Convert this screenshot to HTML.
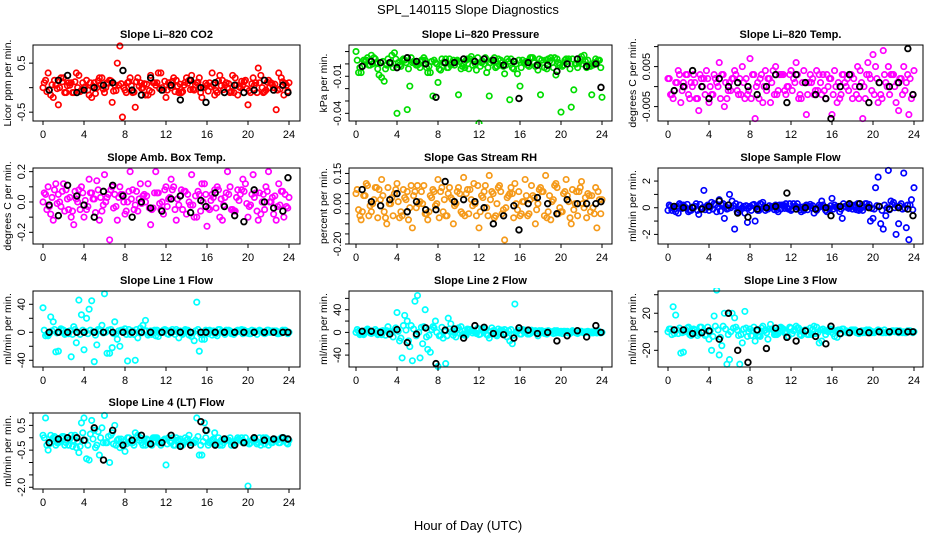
<!DOCTYPE html>
<html><head><meta charset="utf-8"><style>
html,body{margin:0;padding:0;background:#fff;}
svg{display:block;font-family:"Liberation Sans",Arial,sans-serif;}
</style></head><body>
<svg id="chart" width="936" height="540" viewBox="0 0 936 540" xmlns="http://www.w3.org/2000/svg">
<rect x="0" y="0" width="936" height="540" fill="#fff"/>
<text x="468" y="14" font-size="13" text-anchor="middle">SPL_140115  Slope Diagnostics</text>
<text x="468" y="530" font-size="13" text-anchor="middle">Hour of Day (UTC)</text>
</svg>
<script>
const hA=[0,0.5,1,1.5,2,2.5,3,3.5,4,4.5,5,5.5,6,6.5,7,7.5,8,8.5,9,9.5,10,10.5,11,11.5,12,12.5,13,13.5,14,14.5,15,15.5,16,16.5,17,17.5,18,18.5,19,19.5,20,20.5,21,21.5,22,22.5,23,23.5,24];
const hB=[0.25,0.75,1.25,1.75,2.25,2.75,3.25,3.75,4.25,4.75,5.25,5.75,6.25,6.75,7.25,7.75,8.25,8.75,9.25,9.75,10.25,10.75,11.25,11.75,12.25,12.75,13.25,13.75,14.25,14.75,15.25,15.75,16.25,16.75,17.25,17.75,18.25,18.75,19.25,19.75,20.25,20.75,21.25,21.75,22.25,22.75,23.25,23.75];
const hC=[0.12,0.62,1.12,1.62,2.12,2.62,3.12,3.62,4.12,4.62,5.12,5.62,6.12,6.62,7.12,7.62,8.12,8.62,9.12,9.62,10.12,10.62,11.12,11.62,12.12,12.62,13.12,13.62,14.12,14.62,15.12,15.62,16.12,16.62,17.12,17.62,18.12,18.62,19.12,19.62,20.12,20.62,21.12,21.62,22.12,22.62,23.12,23.62];
const hD=[0.38,0.88,1.38,1.88,2.38,2.88,3.38,3.88,4.38,4.88,5.38,5.88,6.38,6.88,7.38,7.88,8.38,8.88,9.38,9.88,10.38,10.88,11.38,11.88,12.38,12.88,13.38,13.88,14.38,14.88,15.38,15.88,16.38,16.88,17.38,17.88,18.38,18.88,19.38,19.88,20.38,20.88,21.38,21.88,22.38,22.88,23.38,23.88];
const hK=[0.6,1.5,2.4,3.3,4.0,5.0,5.9,6.8,7.8,8.7,9.6,10.5,11.6,12.5,13.4,14.4,15.4,15.9,16.8,17.7,18.7,19.6,20.6,21.6,22.5,23.4,23.9];
const xTicks=[0,4,8,12,16,20,24];

const co2A=[0.0,0.3,-0.2,-0.35,0.2,0.1,-0.1,0.25,0.0,-0.15,0.1,0.2,-0.1,0.15,0.05,0.85,-0.05,0.2,-0.4,0.1,-0.15,0.25,0.05,0.3,-0.2,0.0,0.15,-0.1,0.2,0.25,0.1,-0.2,0.05,0.3,-0.1,0.15,0.0,0.25,-0.15,0.05,-0.35,0.2,0.4,-0.1,0.15,0.0,0.3,-0.15,0.1];
const co2B=[0.15,-0.15,0.05,0.2,-0.1,0.1,0.3,-0.05,0.15,-0.2,0.0,0.2,0.1,-0.3,0.5,-0.6,0.1,-0.1,0.2,0.0,-0.15,0.1,0.3,-0.05,0.1,0.2,-0.1,0.05,0.15,-0.05,0.2,0.0,0.1,-0.15,0.25,0.05,-0.1,0.2,0.0,0.15,-0.1,0.1,0.25,-0.05,0.1,-0.45,0.2,0.05];
const co2C=[0.1,-0.05,0.15,0.0,-0.1,0.05,0.12,-0.08,0.02,0.1,-0.12,0.06,0.0,0.14,-0.06,0.08,-0.1,0.04,0.12,-0.02,0.07,-0.09,0.1,0.0,-0.05,0.13,0.03,-0.08,0.09,-0.03,0.11,0.0,-0.07,0.06,0.14,-0.04,0.08,-0.1,0.02,0.12,-0.06,0.05,0.1,-0.08,0.0,0.07,-0.03,0.09];
const co2D=[-0.08,0.06,-0.02,0.12,0.04,-0.1,0.0,0.1,-0.05,0.03,0.14,-0.03,0.09,-0.07,0.05,0.0,0.12,-0.09,0.03,0.08,-0.06,0.1,-0.02,0.13,0.05,-0.08,0.07,0.11,-0.04,0.06,-0.1,0.09,0.02,-0.06,0.04,0.1,-0.08,0.05,0.13,-0.02,0.08,-0.1,0.0,0.11,0.06,-0.05,0.12,-0.07];
const co2K=[-0.05,0.15,0.25,-0.1,-0.05,0.0,0.05,0.1,0.35,-0.05,-0.15,0.2,-0.05,0.05,-0.25,0.15,0.0,-0.3,0.1,-0.1,0.05,-0.1,-0.05,0.15,-0.05,0.05,-0.1];

const presA=[0.01,-0.007,0.003,0.007,0.001,-0.011,-0.001,0.007,-0.040,0.003,-0.037,0.001,-0.001,0.003,-0.007,-0.026,-0.015,0.001,-0.003,0.003,-0.025,0.0,-0.004,0.003,-0.048,0.0,-0.026,0.005,-0.001,-0.008,-0.029,0.002,-0.018,0.001,0.005,-0.002,-0.025,0.003,0.005,-0.009,-0.039,0.004,-0.035,0.0,0.006,-0.003,-0.025,0.001,-0.027];
const presB=[-0.007,0.003,-0.001,0.005,-0.009,-0.014,0.001,0.009,-0.001,0.003,-0.018,0.001,-0.003,0.003,-0.007,0.001,-0.005,0.004,-0.001,0.002,-0.004,0.003,0.006,-0.005,0.001,-0.007,0.003,-0.002,0.001,0.004,-0.003,-0.008,0.003,-0.001,0.005,-0.005,0.001,0.004,-0.003,0.001,-0.001,0.004,-0.021,0.001,0.007,-0.002,0.001,0.003];
const presC=[0.003,-0.002,0.005,0.0,-0.004,0.002,0.004,-0.003,0.001,0.004,-0.004,0.002,0.0,0.005,-0.002,0.003,-0.004,0.001,0.004,-0.001,0.002,-0.003,0.004,0.0,-0.002,0.005,0.001,-0.003,0.003,-0.001,0.004,0.0,-0.003,0.002,0.005,-0.001,0.003,-0.004,0.001,0.004,-0.002,0.002,0.004,-0.003,0.0,0.003,-0.001,0.003];
const presD=[-0.003,0.002,-0.001,0.004,0.001,-0.004,0.0,0.004,-0.002,0.001,0.005,-0.001,0.003,-0.003,0.002,0.0,0.004,-0.003,0.001,0.003,-0.002,0.004,-0.001,0.005,0.002,-0.003,0.002,0.004,-0.002,0.002,-0.004,0.003,0.001,-0.002,0.001,0.004,-0.003,0.002,0.005,-0.001,0.003,-0.004,0.0,0.004,0.002,-0.002,0.004,-0.003];
const presK=[-0.002,0.002,0.001,0.001,-0.003,0.005,0.002,0.0,-0.027,0.001,0.001,0.004,0.002,0.004,0.003,-0.001,0.002,-0.028,0.001,-0.001,-0.001,-0.006,0.0,0.004,-0.002,0.0,-0.019];

const tempA=[0.002,-0.003,0.004,0.001,-0.002,0.003,-0.006,0.002,-0.004,0.003,0.006,-0.005,0.001,0.004,0.002,-0.003,0.007,-0.008,0.002,0.004,-0.004,0.005,0.003,-0.002,0.004,0.006,-0.003,-0.007,0.001,0.004,-0.002,0.003,-0.007,-0.004,0.003,0.002,-0.003,0.005,-0.008,0.006,0.008,-0.004,0.009,0.005,0.003,-0.006,0.005,-0.007,0.004];
const tempB=[-0.002,0.001,-0.004,0.003,0.001,-0.003,0.002,0.004,-0.002,0.001,0.003,-0.003,0.002,-0.001,0.005,-0.002,0.003,0.001,-0.004,0.002,0.004,-0.001,0.003,0.0,0.002,-0.003,0.004,0.001,-0.002,0.003,-0.001,0.002,0.004,-0.003,0.001,0.003,0.0,0.004,-0.003,0.002,0.005,-0.002,0.001,0.003,-0.004,0.002,0.001,-0.003];
const tempC=[0.002,-0.001,0.003,0.0,-0.003,0.001,0.003,-0.002,0.0,0.002,-0.003,0.001,-0.001,0.003,-0.002,0.002,-0.003,0.0,0.003,-0.001,0.001,-0.002,0.003,0.0,-0.001,0.003,0.001,-0.002,0.002,-0.001,0.003,0.0,-0.002,0.001,0.003,-0.001,0.002,-0.003,0.0,0.003,-0.002,0.001,0.003,-0.002,0.0,0.002,-0.001,0.002];
const tempD=[-0.002,0.001,-0.001,0.003,0.0,-0.003,0.0,0.002,-0.002,0.0,0.003,-0.001,0.002,-0.002,0.001,-0.001,0.003,-0.003,0.0,0.002,-0.002,0.003,-0.001,0.003,0.001,-0.002,0.001,0.003,-0.001,0.001,-0.003,0.002,0.0,-0.002,0.0,0.003,-0.002,0.001,0.003,-0.001,0.002,-0.003,0.0,0.003,0.001,-0.002,0.003,-0.002];
const tempK=[-0.001,0.0,0.004,0.0,-0.003,0.002,0.0,0.001,0.0,-0.002,0.0,0.003,-0.004,0.003,0.001,-0.002,-0.003,-0.008,0.0,0.003,0.0,-0.004,0.001,0.0,0.001,0.0095,-0.002];

const ambA=[0.0,0.1,-0.12,0.05,0.12,-0.05,-0.15,0.08,-0.1,0.15,0.02,-0.12,0.18,-0.25,0.05,0.1,-0.08,0.2,-0.02,0.12,0.0,-0.15,0.2,-0.05,0.1,0.15,-0.12,0.08,-0.08,0.18,-0.1,0.12,-0.16,0.05,0.1,-0.12,0.2,-0.05,0.08,0.15,-0.1,0.18,-0.12,0.05,0.2,-0.08,0.12,-0.1,0.03];
const ambB=[0.05,-0.08,0.12,-0.03,0.08,-0.1,0.02,0.1,-0.05,0.06,0.14,-0.06,0.03,0.1,-0.12,0.05,0.0,0.08,-0.06,0.04,0.12,-0.04,0.06,-0.08,0.02,0.1,-0.02,0.07,0.0,-0.1,0.05,0.12,-0.05,0.08,-0.1,0.03,0.1,-0.06,0.05,0.12,-0.02,0.06,-0.08,0.1,0.0,-0.12,0.07,-0.03];
const ambC=[0.06,-0.03,0.08,0.0,-0.06,0.03,0.07,-0.05,0.01,0.06,-0.07,0.03,0.0,0.08,-0.03,0.05,-0.06,0.02,0.07,-0.01,0.04,-0.05,0.06,0.0,-0.03,0.08,0.02,-0.05,0.05,-0.02,0.07,0.0,-0.04,0.03,0.08,-0.02,0.05,-0.06,0.01,0.07,-0.03,0.03,0.06,-0.05,0.0,0.04,-0.02,0.05];
const ambD=[-0.05,0.03,-0.01,0.07,0.02,-0.06,0.0,0.06,-0.03,0.02,0.08,-0.02,0.05,-0.04,0.03,0.0,0.07,-0.05,0.02,0.05,-0.04,0.06,-0.01,0.08,0.03,-0.05,0.04,0.07,-0.02,0.04,-0.06,0.05,0.01,-0.04,0.02,0.06,-0.05,0.03,0.08,-0.01,0.05,-0.06,0.0,0.07,0.03,-0.03,0.07,-0.04];
const ambK=[-0.02,-0.09,0.11,0.04,-0.02,-0.1,0.07,0.11,0.04,-0.1,0.0,-0.04,-0.06,0.02,0.04,-0.07,0.01,-0.03,0.06,-0.03,-0.09,-0.13,0.08,0.0,-0.04,-0.06,0.16];

const rhA=[0.05,-0.08,0.1,-0.04,0.08,0.12,-0.1,0.03,0.1,-0.06,0.06,-0.12,0.09,0.0,-0.08,0.07,0.12,-0.04,0.05,-0.1,0.08,0.13,-0.05,0.1,-0.12,0.06,0.14,-0.07,0.09,-0.18,0.05,0.1,-0.06,0.12,0.02,-0.1,0.08,0.14,-0.08,0.1,-0.04,0.12,-0.1,0.06,0.11,-0.07,0.04,-0.12,0.02];
const rhB=[-0.03,0.04,-0.06,0.02,0.07,-0.04,0.0,0.05,-0.07,0.03,-0.02,0.06,0.01,-0.05,0.04,-0.01,0.06,-0.06,0.03,0.0,-0.04,0.05,0.02,-0.06,0.04,-0.02,0.06,0.0,-0.05,0.03,0.05,-0.03,0.01,-0.06,0.04,0.0,0.06,-0.04,0.02,-0.05,0.05,0.01,-0.03,0.06,-0.02,0.04,-0.05,0.02];
const rhC=[0.07,-0.04,0.09,0.0,-0.07,0.04,0.08,-0.06,0.01,0.07,-0.08,0.04,0.0,0.09,-0.04,0.06,-0.07,0.02,0.08,-0.01,0.05,-0.06,0.07,0.0,-0.04,0.09,0.02,-0.06,0.06,-0.02,0.08,0.0,-0.05,0.04,0.09,-0.03,0.06,-0.07,0.01,0.08,-0.04,0.04,0.07,-0.06,0.0,0.05,-0.02,0.06];
const rhD=[-0.06,0.04,-0.01,0.08,0.02,-0.07,0.0,0.07,-0.04,0.02,0.09,-0.02,0.06,-0.05,0.03,0.0,0.08,-0.06,0.02,0.06,-0.05,0.07,-0.01,0.09,0.03,-0.06,0.05,0.08,-0.03,0.04,-0.07,0.06,0.01,-0.05,0.03,0.07,-0.06,0.04,0.09,-0.02,0.06,-0.07,0.0,0.08,0.03,-0.04,0.08,-0.05];
const rhK=[0.07,0.01,-0.01,0.02,0.05,-0.04,0.01,-0.03,-0.03,0.11,0.01,0.02,0.01,-0.02,-0.1,-0.06,-0.01,-0.13,0.0,0.03,0.0,-0.05,0.02,0.0,0.0,0.0,0.01];

const sfA=[-0.2,0.1,-0.4,0.2,-0.3,0.0,-0.5,1.3,-0.2,0.3,0.6,-0.8,1.0,-1.6,0.2,-0.4,0.1,-1.0,0.3,-0.2,0.0,0.2,-0.1,0.3,-0.2,0.1,-0.3,0.2,0.0,-0.2,0.5,-0.3,0.7,0.0,-0.8,0.2,-0.1,0.3,-0.2,0.1,-0.8,2.3,-1.6,2.8,0.4,-1.2,2.6,-2.4,1.5];
const sfB=[0.1,-0.3,0.2,0.0,-0.2,0.3,-0.1,0.1,0.4,-0.3,0.2,-0.1,0.5,-0.3,0.0,-1.1,0.2,-0.2,0.4,-0.1,0.1,-0.3,0.2,-0.1,0.3,0.0,-0.2,0.1,-0.4,0.2,0.0,-0.1,0.2,-0.3,0.1,0.0,0.2,-0.1,0.3,-1.0,1.5,-1.2,-0.6,0.5,-2.0,0.3,-1.5,0.6];
const sfC=[0.2,-0.1,0.3,0.0,-0.2,0.1,0.25,-0.15,0.05,0.2,-0.25,0.1,0.0,0.3,-0.1,0.15,-0.2,0.05,0.25,-0.05,0.1,-0.15,0.2,0.0,-0.1,0.3,0.05,-0.15,0.15,-0.05,0.2,0.0,-0.1,0.1,0.3,-0.05,0.15,-0.2,0.05,0.25,-0.1,0.1,0.2,-0.15,0.0,0.15,-0.05,0.2];
const sfD=[-0.2,0.1,-0.05,0.25,0.05,-0.2,0.0,0.2,-0.1,0.05,0.3,-0.05,0.15,-0.15,0.1,0.0,0.25,-0.2,0.05,0.15,-0.15,0.2,-0.05,0.3,0.1,-0.15,0.1,0.25,-0.1,0.1,-0.2,0.15,0.05,-0.1,0.05,0.2,-0.15,0.1,0.3,-0.05,0.15,-0.2,0.0,0.25,0.1,-0.1,0.2,-0.15];
const sfK=[0.1,0.0,0.0,-0.1,0.1,0.5,0.2,-0.4,-0.7,-0.1,0.0,0.1,1.1,-0.1,0.0,-0.1,0.0,-0.6,0.1,0.3,0.3,0.0,0.1,-0.1,0.0,-0.1,-0.6];

const l1A=[35,-5,15,-27,3,-2,8,46,-25,33,-42,4,55,-30,15,-20,5,-3,-40,6,17,2,-5,1,3,-1,4,-2,2,-6,43,-10,2,-4,-5,1,2,-1,3,-2,1,0,2,-1,3,0,-2,1,0];
const l1B=[-5,22,-28,5,-2,-35,-15,25,20,45,-18,10,-30,-22,-10,3,-41,2,-8,10,-4,2,-6,3,-3,1,-8,2,-4,-12,-27,-10,3,-2,4,-3,2,-1,3,0,-2,1,2,-1,0,2,-1,1];
const l1C=[3,-2,4,0,-3,2,4,-3,1,3,-4,2,0,4,-2,3,-3,1,4,-1,2,-3,3,0,-2,4,1,-3,3,-1,4,0,-2,2,4,-1,3,-3,1,3,-2,2,3,-2,0,2,-1,3];
const l1D=[-3,2,-1,4,1,-3,0,3,-2,1,4,-1,3,-2,2,0,4,-3,1,3,-2,3,-1,4,2,-3,2,4,-1,2,-3,3,1,-2,1,3,-2,2,4,-1,3,-3,0,3,2,-2,3,-2];
const l1K=[0,0,0,0,0,0,0,0,0,0,0,0,0,0,0,0,0,0,0,0,0,0,0,0,0,0,0];

const l2A=[0,-3,4,-2,2,-4,3,1,35,-45,20,-50,65,-20,-30,10,-60,-10,25,-5,8,-3,5,2,-4,6,-10,3,-2,5,-15,50,-3,4,-2,3,-1,2,0,-1,2,0,1,-1,2,0,1,-1,0];
const l2B=[2,-4,3,0,-3,2,-2,4,-15,30,-25,55,-45,40,-35,20,-5,-55,15,-8,10,-5,3,-2,6,-4,8,-6,4,-8,-20,2,5,-3,2,-6,1,3,-2,0,2,-1,1,0,-1,1,0,0];
const l2C=[5,-3,6,0,-4,3,10,-8,2,12,-15,6,0,10,-5,8,-6,2,6,-1,4,-5,5,0,-3,6,1,-4,4,-2,5,0,-3,2,4,-1,3,-3,1,3,-2,2,3,-2,0,2,-1,3];
const l2D=[-4,3,-1,5,2,-5,0,8,-10,4,12,-6,9,-8,5,0,9,-6,2,5,-4,6,-1,7,3,-5,3,6,-2,3,-5,4,1,-3,1,3,-2,2,3,-1,2,-2,0,2,1,-1,2,-1];
const l2K=[2,2,0,-3,5,-18,-3,8,-55,4,6,-10,12,9,-2,-4,-10,8,4,-2,0,-15,-6,3,-8,12,0];

const l3A=[0,27,-2,-22,5,3,-2,1,-8,17,-25,20,-30,15,-35,22,3,-10,-5,2,8,-3,5,-1,4,6,-4,2,-3,5,-10,1,2,-6,3,-1,2,0,-1,1,0,2,-1,0,1,-1,0,1,0];
const l3B=[3,18,-23,2,-4,-1,5,-3,-20,45,-15,-35,20,2,-12,-5,1,-4,6,-8,2,-2,3,-5,1,4,-2,-3,6,-12,1,3,-5,2,0,-1,2,0,-1,1,0,1,-1,0,1,0,-1,0];
const l3C=[3,-2,4,0,-3,2,5,-4,1,6,-6,3,0,5,-3,4,-4,1,4,-1,3,-3,4,0,-2,4,1,-3,3,-1,3,0,-2,2,3,-1,2,-2,1,2,-1,1,2,-1,0,1,-1,1];
const l3D=[-3,2,-1,4,1,-4,0,5,-5,2,6,-3,4,-4,3,0,5,-4,1,3,-3,4,-1,5,2,-3,2,4,-2,2,-3,3,1,-2,1,2,-1,1,2,-1,1,-1,0,1,1,-1,1,-1];
const l3K=[2,2,-2,-1,1,-8,20,-20,-33,2,-18,4,-6,-10,1,-5,-13,6,-2,-1,0,-1,0,0,0,0,0];

const l4A=[0.1,-0.5,0.0,-0.2,0.05,-0.3,-0.1,-0.6,0.8,-0.9,0.3,-0.7,0.9,-1.0,0.5,-0.4,-0.55,-0.2,0.2,0.0,-0.3,-0.2,0.0,-0.3,-1.1,-0.2,0.0,-0.3,-0.1,-0.2,0.8,-0.7,0.3,-0.1,-0.2,-0.3,-0.1,-0.2,0.0,-0.2,-1.95,-0.1,-0.2,0.0,-0.3,-0.1,-0.2,0.0,-0.1];
const l4B=[0.8,0.1,-0.3,0.0,-0.2,0.1,-0.4,0.6,-0.85,0.7,-0.3,0.4,-0.2,0.2,-0.1,-0.3,0.0,-0.2,0.1,-0.3,-0.1,0.0,-0.2,-0.1,0.0,-0.3,-0.1,-0.2,0.1,-0.2,-0.7,0.6,-0.2,0.2,-0.3,-0.1,0.0,-0.2,-0.1,0.0,-0.2,-0.1,-0.3,0.0,-0.2,-0.1,0.0,-0.2];
const l4C=[0.0,-0.25,0.05,-0.15,-0.3,-0.05,0.1,-0.35,-0.1,0.15,-0.4,0.0,-0.2,0.1,-0.3,-0.05,-0.25,-0.1,0.0,-0.2,-0.05,-0.3,0.0,-0.15,-0.25,0.0,-0.1,-0.3,-0.05,-0.2,0.05,-0.15,-0.3,-0.05,0.0,-0.2,-0.1,-0.3,-0.05,-0.15,-0.25,-0.05,0.0,-0.25,-0.1,-0.05,-0.2,-0.1];
const l4D=[-0.3,-0.05,-0.2,0.05,-0.1,-0.35,-0.15,0.2,-0.3,-0.05,0.25,-0.2,0.05,-0.25,-0.05,-0.15,0.0,-0.3,-0.1,-0.05,-0.25,0.0,-0.2,-0.05,-0.15,-0.3,-0.05,0.0,-0.2,-0.1,-0.3,0.0,-0.15,-0.25,-0.1,-0.05,-0.3,-0.1,0.0,-0.2,-0.1,-0.25,-0.15,-0.05,-0.2,-0.1,-0.05,-0.25];
const l4K=[-0.2,-0.05,0.0,0.0,-0.1,0.4,-0.9,0.3,-0.3,-0.1,0.1,-0.25,-0.2,0.1,-0.35,-0.3,0.65,0.3,-0.3,-0.05,-0.3,-0.2,0.0,-0.1,-0.05,0.0,-0.05];

const co2Ticks=[-0.5,0,0.5], co2Labels=["-0.5","","0.5"];
const presTicks=[-0.04,-0.03,-0.02,-0.01,0,0.01], presLabels=["-0.04","","","-0.01","",""];
const tempTicks=[-0.005,0,0.005,0.01], tempLabels=["-0.005","","0.005",""];
const ambTicks=[-0.2,-0.1,0,0.1,0.2], ambLabels=["-0.2","","0.0","","0.2"];
const rhTicks=[-0.2,-0.15,-0.1,-0.05,0,0.05,0.1,0.15], rhLabels=["-0.20","","","","0.00","","","0.15"];
const sfTicks=[-2,-1,0,1,2], sfLabels=["-2","","0","","2"];
const l1Ticks=[-40,-20,0,20,40], l1Labels=["-40","","0","","40"];
const l2Ticks=[-40,-20,0,20,40,60], l2Labels=["-40","","0","","40",""];
const l3Ticks=[-20,0,20,40], l3Labels=["-20","","20",""];
const l4Ticks=[-2,-1.5,-1,-0.5,0,0.5,1], l4Labels=["-2.0","","","-0.5","","0.5",""];

const cols=[{l:33,r:300,x0:43,x24:289},{l:349,r:612,x0:356,x24:602},{l:658,r:923,x0:668,x24:914}];
const rows=[{t:45,b:121},{t:168,b:244},{t:291,b:367},{t:413,b:489}];

const panels=[
 {name:'co2',title:'Slope Li\u2013820 CO2',ylab:'Licor ppm per min.',c:0,r:0,ymin:-0.68,ymax:0.87,color:'#ff0000',S:[co2A,co2B,co2C,co2D],K:co2K,ticks:co2Ticks,labels:co2Labels},
 {name:'pressure',title:'Slope Li\u2013820 Pressure',ylab:'kPa per min.',c:1,r:0,ymin:-0.0462,ymax:0.0153,color:'#00dd00',S:[presA,presB,presC,presD],K:presK,ticks:presTicks,labels:presLabels},
 {name:'li820-temp',title:'Slope Li\u2013820 Temp.',ylab:'degrees C per min.',c:2,r:0,ymin:-0.0086,ymax:0.0104,color:'#ff00ff',S:[tempA,tempB,tempC,tempD],K:tempK,ticks:tempTicks,labels:tempLabels},
 {name:'amb-box-temp',title:'Slope Amb. Box Temp.',ylab:'degrees C per min.',c:0,r:1,ymin:-0.277,ymax:0.224,color:'#ff00ff',S:[ambA,ambB,ambC,ambD],K:ambK,ticks:ambTicks,labels:ambLabels},
 {name:'gas-stream-rh',title:'Slope Gas Stream RH',ylab:'percent per min.',c:1,r:1,ymin:-0.2,ymax:0.177,color:'#f59a1a',S:[rhA,rhB,rhC,rhD],K:rhK,ticks:rhTicks,labels:rhLabels},
 {name:'sample-flow',title:'Slope Sample Flow',ylab:'ml/min per min.',c:2,r:1,ymin:-2.72,ymax:2.98,color:'#0000ff',S:[sfA,sfB,sfC,sfD],K:sfK,ticks:sfTicks,labels:sfLabels},
 {name:'line1-flow',title:'Slope Line 1 Flow',ylab:'ml/min per min.',c:0,r:2,ymin:-49.6,ymax:59,color:'#00ffff',S:[l1A,l1B,l1C,l1D],K:l1K,ticks:l1Ticks,labels:l1Labels},
 {name:'line2-flow',title:'Slope Line 2 Flow',ylab:'ml/min per min.',c:1,r:2,ymin:-61,ymax:73,color:'#00ffff',S:[l2A,l2B,l2C,l2D],K:l2K,ticks:l2Ticks,labels:l2Labels},
 {name:'line3-flow',title:'Slope Line 3 Flow',ylab:'ml/min per min.',c:2,r:2,ymin:-38,ymax:44,color:'#00ffff',S:[l3A,l3B,l3C,l3D],K:l3K,ticks:l3Ticks,labels:l3Labels},
 {name:'line4-flow',title:'Slope Line 4 (LT) Flow',ylab:'ml/min per min.',c:0,r:3,ymin:-2.07,ymax:1.0,color:'#00ffff',S:[l4A,l4B,l4C,l4D],K:l4K,ticks:l4Ticks,labels:l4Labels}
];
const hourSets=[hA,hB,hC,hD];

const NS='http://www.w3.org/2000/svg';
const svg=document.getElementById('chart');
function mk(tag,attrs,parent){const e=document.createElementNS(NS,tag);for(const k in attrs)e.setAttribute(k,attrs[k]);(parent||svg).appendChild(e);return e;}

panels.forEach(p=>{
  const col=cols[p.c], row=rows[p.r];
  const g=mk('g',{});
  
  
  const xs=h=>col.x0+(col.x24-col.x0)*h/24;
  const ys=v=>row.b-(v-p.ymin)/(p.ymax-p.ymin)*(row.b-row.t);
  const clip='clip-'+p.name;
  const cp=mk('clipPath',{id:clip},g);
  mk('rect',{x:col.l,y:row.t-3,width:col.r-col.l,height:row.b-row.t+6},cp);
  const pts=mk('g',{'clip-path':'url(#'+clip+')'},g);
  
  
  p.S.forEach((vals,si)=>{
    const hrs=hourSets[si];
    vals.forEach((v,i)=>{ if(i>=hrs.length) return;
      const c=mk('circle',{cx:xs(hrs[i]),cy:ys(v),r:2.7,fill:'none',stroke:p.color,'stroke-width':1.7},pts);
      
      
    });
  });
  p.K.forEach((v,i)=>{ if(i>=hK.length) return;
    const c=mk('circle',{cx:xs(hK[i]),cy:ys(v),r:2.8,fill:'none',stroke:'#000','stroke-width':1.8},pts);
    
    
  });
  const box=mk('rect',{x:col.l,y:row.t,width:col.r-col.l,height:row.b-row.t,fill:'none',stroke:'#000','stroke-width':1},g);
  
  
  const t=mk('text',{x:(col.l+col.r)/2,y:row.t-7,'font-size':11,'font-weight':'bold','text-anchor':'middle'},g);
  t.textContent=p.title;
  
  
  xTicks.forEach(h=>{
    mk('line',{x1:xs(h),x2:xs(h),y1:row.b,y2:row.b+4,stroke:'#000'},g);
    const tl=mk('text',{x:xs(h),y:row.b+17,'font-size':11,'text-anchor':'middle'},g);
    tl.textContent=String(h);
    
    
  });
  p.ticks.forEach((v,i)=>{
    const y=ys(v);
    mk('line',{x1:col.l-4,x2:col.l,y1:y,y2:y,stroke:'#000'},g);
    if(p.labels[i]){
      const tl=mk('text',{x:col.l-8,y:y,'font-size':11,'text-anchor':'middle',transform:'rotate(-90 '+(col.l-8)+' '+y+')'},g);
      tl.textContent=p.labels[i];
      
      
    }
  });
  const yl=col.l-22, yc=(row.t+row.b)/2;
  const yt=mk('text',{x:yl,y:yc,'font-size':10.5,'text-anchor':'middle',transform:'rotate(-90 '+yl+' '+yc+')'},g);
  yt.textContent=p.ylab;
  
  
});
</script>
</body></html>
